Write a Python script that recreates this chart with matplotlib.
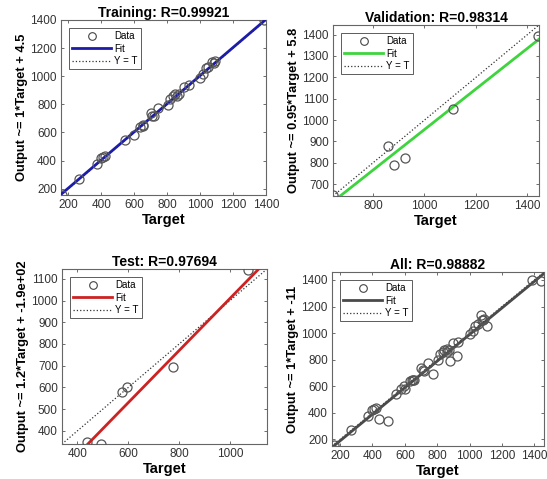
import matplotlib
matplotlib.use("Agg")
import matplotlib.pyplot as plt
import numpy as np
from matplotlib.lines import Line2D

plt.rcParams['font.family'] = ['Liberation Sans', 'DejaVu Sans']

# ---------------- data ----------------
train_target = [160, 265, 375, 400, 410, 420, 545, 600, 635, 650, 655, 700, 710, 720,
                745, 805, 815, 835, 845, 860, 870, 900, 930, 1000, 1020, 1035, 1050,
                1075, 1085, 1090, 1385]
train_output = [155, 270, 375, 420, 425, 435, 545, 580, 640, 650, 645, 735, 720, 715,
                775, 795, 840, 860, 870, 860, 875, 925, 935, 990, 1015, 1055, 1065,
                1100, 1095, 1105, 1400]

val_target = [645, 860, 880, 925, 1110, 1440]
val_output = [648, 880, 790, 825, 1050, 1395]

test_target = [440, 495, 575, 595, 775, 1070]
test_output = [350, 340, 580, 600, 695, 1140]

all_target = train_target + val_target + test_target
all_output = train_output + val_output + test_output

titles = ["Training: R=0.99921", "Validation: R=0.98314", "Test: R=0.97694", "All: R=0.98882"]
ylabels = ["Output ~= 1*Target + 4.5", "Output ~= 0.95*Target + 5.8",
           "Output ~= 1.2*Target + -1.9e+02", "Output ~= 1*Target + -11"]
fit_slope = [1.0, 0.95, 1.2, 1.0]
fit_intercept = [4.5, 5.8, -190.0, -11.0]
fit_colors = ["#1c1ca8", "#3ed43e", "#cc2222", "#4a4a4a"]
limits = [(155, 1400), (645, 1445), (340, 1145), (150, 1460)]
ticks = [[200, 400, 600, 800, 1000, 1200, 1400],
         [800, 1000, 1200, 1400],
         [400, 600, 800, 1000],
         [200, 400, 600, 800, 1000, 1200, 1400]]
yticks = [[200, 400, 600, 800, 1000, 1200, 1400],
          [700, 800, 900, 1000, 1100, 1200, 1300, 1400],
          [400, 500, 600, 700, 800, 900, 1000, 1100],
          [200, 400, 600, 800, 1000, 1200, 1400]]

datasets = [(train_target, train_output), (val_target, val_output),
            (test_target, test_output), (all_target, all_output)]

W, H = 547, 479
fig = plt.figure(figsize=(W / 100, H / 100), dpi=100)

boxes_px = [(61, 20, 266, 195), (333, 25, 539, 196), (62, 269, 267, 444), (332, 272, 544, 446)]

for i, (l, t, r, b) in enumerate(boxes_px):
    ax = fig.add_axes([l / W, (H - b) / H, (r - l) / W, (b - t) / H])
    lo, hi = limits[i]
    tx, ty = datasets[i]
    xs = np.array([lo, hi])
    # Y = T
    ax.plot(xs, xs, linestyle=':', color='#333333', lw=0.9, zorder=2)
    # fit
    ax.plot(xs, fit_slope[i] * xs + fit_intercept[i], color=fit_colors[i], lw=2.0, zorder=3)
    # data
    ax.plot(tx, ty, linestyle='none', marker='o', markersize=6.5, markerfacecolor='none',
            markeredgecolor='#555555', markeredgewidth=0.9, zorder=4)
    ax.set_xlim(lo, hi)
    ax.set_ylim(lo, hi)
    ax.set_xticks(ticks[i])
    ax.set_yticks(yticks[i])
    ax.tick_params(direction='in', length=2.5, width=0.6, labelsize=8.5, colors='#555555',
                   labelcolor='#333333', pad=3, top=True, right=True)
    for s in ax.spines.values():
        s.set_color('#666666')
        s.set_linewidth(0.8)
    ax.set_title(titles[i], fontsize=10, fontweight='bold', pad=2)
    ax.set_xlabel("Target", fontsize=10.5, fontweight='bold', labelpad=1)
    ax.set_ylabel(ylabels[i], fontsize=9.3, fontweight='bold', labelpad=2)

    handles = [Line2D([], [], linestyle='none', marker='o', markersize=5.5, markerfacecolor='none',
                      markeredgecolor='#444444', markeredgewidth=0.8),
               Line2D([], [], color=fit_colors[i], lw=2.0),
               Line2D([], [], color='#333333', lw=0.9, linestyle=':')]
    leg = ax.legend(handles, ["Data", "Fit", "Y = T"], loc='upper left', fontsize=7,
                    frameon=True, fancybox=False, handlelength=4.0, handletextpad=0.3,
                    borderpad=0.35, labelspacing=0.25, borderaxespad=0.8)
    leg.get_frame().set_edgecolor('#333333')
    leg.get_frame().set_linewidth(0.7)

fig.savefig("out.png", dpi=100)
